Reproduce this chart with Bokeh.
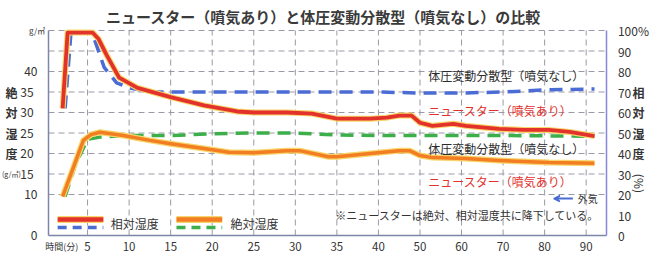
import math
from bokeh.plotting import figure
from bokeh.models import Range1d, LinearAxis, FixedTicker, Label, LabelSet, Arrow, VeeHead, ColumnDataSource
from bokeh.embed import file_html
from bokeh.resources import INLINE
from bokeh.core.properties import value

FONT = "Noto Sans CJK JP"

# ---------------- data ----------------
title_text = "ニュースター（噴気あり）と体圧変動分散型（噴気なし）の比較"
name_newstar = "ニュースター（噴気あり）"
name_taiatsu = "体圧変動分散型（噴気なし）"

x_tick_minutes = [5, 10, 15, 20, 25, 30, 35, 40, 50, 60, 70, 80, 90]
abs_ticks_outer = [0, 10, 40]
abs_ticks_inner = [15, 20, 25, 30, 35]
abs_grid = [10, 15, 20, 25, 30, 35, 40, 45, 50]
rh_ticks = [0, 10, 20, 30, 40, 50, 60, 70, 80, 90, 100]

# relative humidity (%)
t_rh_newstar = [2, 2.6, 5.6, 6.3, 7.3, 8.8, 11, 15, 19, 23, 25, 29, 32, 35, 39, 42, 45, 48, 50, 53, 58, 61, 69, 75, 81, 86, 92]
rh_newstar = [62, 99, 99, 96, 88, 77, 72, 67.5, 63.5, 60.5, 60, 60, 59.5, 57, 57, 57.5, 58.5, 58.5, 55, 53.5, 54.5, 53.5, 52, 51.5, 51.5, 50.5, 48.5]
t_rh_taiatsu = [2.3, 3.0, 5.5, 5.8, 7, 8.5, 10, 12.5, 20, 30, 40, 50, 60, 70, 80, 92]
rh_taiatsu = [62, 99, 99, 96, 82, 74.5, 72, 70, 70, 70, 70, 69.5, 69.5, 70, 71, 71.5]

# absolute humidity (g/m3)
t_ah_newstar = [2, 3.3, 4.5, 5.4, 6.5, 9.3, 12.5, 15, 19, 22, 25, 29, 30.5, 34, 35, 39, 45, 47.5, 50, 53, 61, 69, 81, 92]
ah_newstar = [9.5, 16.6, 23.2, 24.6, 25.2, 24.4, 23.2, 22.4, 21.2, 20.3, 20.2, 20.7, 20.7, 19.2, 19.2, 20, 20.7, 20.7, 19.5, 19, 18.8, 18.3, 17.8, 17.6]
t_ah_taiatsu = [2.3, 3.5, 5, 6.5, 10, 15, 20, 25, 30, 35, 40, 50, 70, 92]
ah_taiatsu = [9.5, 17, 23.5, 24, 24.4, 24.4, 24.8, 25, 25, 24.5, 24.4, 24.4, 24.4, 24.2]


def to_u(t):
    # time axis is linear up to 40 min, then compressed (10 min per tick)
    u = t if t <= 40 else 40 + (t - 40) / 2
    return int(u) if float(u).is_integer() else u


RED = "#e3312c"
BLUE = "#4a6cd4"
ORANGE = "#f27d22"
GREEN = "#3cae4a"
HALO = "#f7d56a"
TXT = "#333333"
GRID = "#9a9aa6"

# plotting area limits (in axis units)
X0, X1 = 0.3, 67.5
Y0, Y1 = 0, 50

p = figure(width=652, height=253, output_backend="svg", toolbar_location=None,
           x_range=Range1d(-5.476, 72.98), y_range=Range1d(-4.39, 57.32),
           x_axis_location=None, y_axis_location=None,
           min_border_left=0, min_border_right=0, min_border_top=0, min_border_bottom=0)
p.extra_y_ranges = {"rh": Range1d(-8.78, 114.64)}
p.outline_line_color = None
p.background_fill_color = "white"
p.border_fill_color = "white"
p.xgrid.visible = False
p.ygrid.visible = False

# ---------------- grid ----------------
x_tick_u = [to_u(t) for t in x_tick_minutes]
p.multi_line(xs=[[X0, X1] for _ in abs_grid], ys=[[g, g] for g in abs_grid],
             line_color=GRID, line_dash="6 4", line_width=1)
p.multi_line(xs=[[u, u] for u in x_tick_u], ys=[[Y0, Y1] for _ in x_tick_u],
             line_color=GRID, line_dash="6 4", line_width=1)


def style_axis(ax, color, standoff, size="12px"):
    ax.axis_line_color = color
    ax.axis_line_width = 1.5
    ax.major_tick_line_color = None
    ax.minor_tick_line_color = None
    ax.major_label_standoff = standoff
    ax.major_label_text_font = FONT
    ax.major_label_text_font_size = size
    ax.major_label_text_color = TXT


# x axis
xa = LinearAxis(ticker=FixedTicker(ticks=x_tick_u), fixed_location=Y0, bounds=(X0, X1))
xa.major_label_overrides = {to_u(t): str(t) for t in x_tick_minutes}
style_axis(xa, "#7c86a8", 0, "11.5px")
p.add_layout(xa, "below")

# left axis
ya = LinearAxis(ticker=FixedTicker(ticks=abs_ticks_outer), fixed_location=X0, bounds=(Y0, Y1))
style_axis(ya, "#7c86a8", 5)
p.add_layout(ya, "left")

# right axis
ra = LinearAxis(y_range_name="rh", ticker=FixedTicker(ticks=rh_ticks), fixed_location=X1, bounds=(0, 100))
ra.major_label_overrides = {100: "100%"}
style_axis(ra, "#8686dc", 5)
p.add_layout(ra, "right")

# ---------------- lines ----------------
u_rh_ns = [to_u(t) for t in t_rh_newstar]
u_rh_ta = [to_u(t) for t in t_rh_taiatsu]
u_ah_ns = [to_u(t) for t in t_ah_newstar]
u_ah_ta = [to_u(t) for t in t_ah_taiatsu]

p.line(u_ah_ta, ah_taiatsu, line_color=GREEN, line_width=3.5, line_dash="13 8")
p.line(u_ah_ns, ah_newstar, line_color=HALO, line_width=6, line_join="round")
p.line(u_ah_ns, ah_newstar, line_color=ORANGE, line_width=3.5, line_join="round")
p.line(u_rh_ta, rh_taiatsu, y_range_name="rh", line_color=BLUE, line_width=3.5, line_dash="13 8")
p.line(u_rh_ns, rh_newstar, y_range_name="rh", line_color=HALO, line_width=6, line_join="round")
p.line(u_rh_ns, rh_newstar, y_range_name="rh", line_color=RED, line_width=3.8, line_join="round")


# ---------------- annotations ----------------
def lab(text, x, y, size="12px", color=TXT, align="left", baseline="middle", angle=0, style="normal"):
    p.add_layout(Label(x=x, y=y, text=text,
                       text_font=FONT, text_font_size=size, text_color=color,
                       text_align=align, text_baseline=baseline, angle=angle,
                       text_font_style=style))


# title
lab(title_text, 33.4, 53.3, size="15px", color="#3a3a3a", align="center", style="bold")

# series labels inside the plot
lab(name_taiatsu, 46.0, 39.0, color="#2c2c2c")
lab(name_newstar, 46.0, 30.5, color=RED)
lab(name_taiatsu, 46.0, 21.2, color="#2c2c2c")
lab(name_newstar, 46.0, 13.2, color=RED)

# note
lab("※ニュースターは絶対、相対湿度共に降下している。", 34.8, 5.1, size="11px")

# outside air arrow
p.add_layout(Arrow(end=VeeHead(size=6, line_color=BLUE, fill_color=BLUE, line_width=1.5),
                   x_start=63.4, y_start=9.0, x_end=61.1, y_end=9.0,
                   line_color=BLUE, line_width=2))
lab("外気", 64.0, 9.0, size="10px")

# legend swatches
p.add_layout(Arrow(end=None, x_start=1.4, y_start=3.9, x_end=6.9, y_end=3.9, line_color=HALO, line_width=7))
p.add_layout(Arrow(end=None, x_start=1.4, y_start=3.9, x_end=6.9, y_end=3.9, line_color=RED, line_width=4.5))
p.add_layout(Arrow(end=None, x_start=1.4, y_start=1.95, x_end=6.9, y_end=1.95, line_color=BLUE, line_width=3.5, line_dash="9 6"))
lab("相対湿度", 7.8, 2.9)
p.add_layout(Arrow(end=None, x_start=15.7, y_start=3.9, x_end=21.2, y_end=3.9, line_color=HALO, line_width=7))
p.add_layout(Arrow(end=None, x_start=15.7, y_start=3.9, x_end=21.2, y_end=3.9, line_color=ORANGE, line_width=4.5))
p.add_layout(Arrow(end=None, x_start=15.7, y_start=1.95, x_end=21.2, y_end=1.95, line_color=GREEN, line_width=3.5, line_dash="9 6"))
lab("絶対湿度", 22.2, 2.9)

# left inner tick labels (set next to the vertical caption)
src_inner = ColumnDataSource(dict(y=abs_ticks_inner, text=[str(v) for v in abs_ticks_inner]))
p.add_layout(LabelSet(source=src_inner, x=-1.5, y="y", text="text",
                      text_font=value(FONT), text_font_size="12px", text_color=TXT,
                      text_align="right", text_baseline="middle"))

# left vertical caption
for ch, yv in zip("絶対湿度", [35, 30, 25, 20]):
    lab(ch, -4.15, yv, size="12px", align="center", style="bold")
lab("(g/㎥)", -5.3, 15, size="7px", align="left")
lab("g/㎥", -0.1, 50, size="8px", align="right")

# right vertical caption
for ch, yv in zip("相対湿度", [35, 30, 25, 20]):
    lab(ch, 71.3, yv, size="12px", align="center", style="bold")
lab("(%)", 71.4, 12.7, size="12px", align="center", angle=-math.pi / 2)

# x label
lab("時間(分)", -0.1, -2.6, size="9px")

open("out.html", "w").write(file_html(p, INLINE))
